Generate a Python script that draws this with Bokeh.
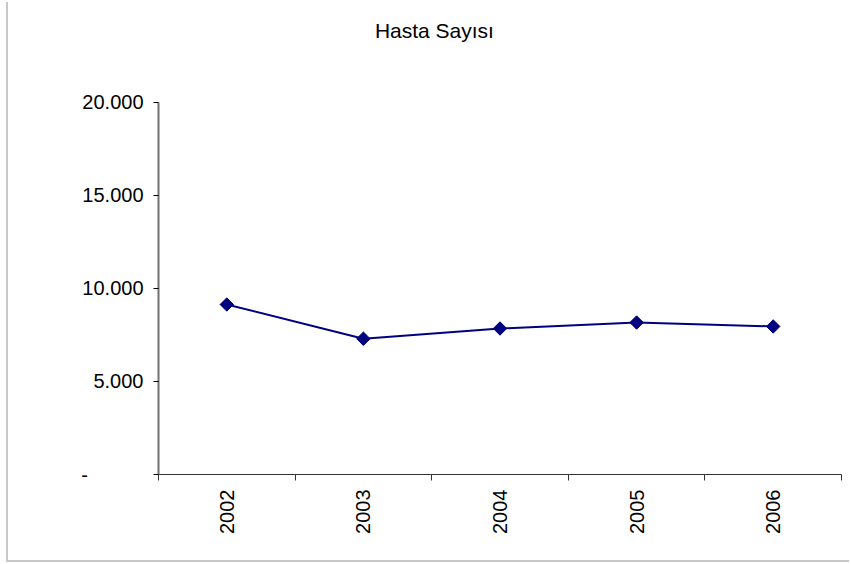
from math import pi
from bokeh.plotting import figure
from bokeh.layouts import column
from bokeh.models import (FactorRange, Range1d, LinearAxis, CategoricalAxis,
                          FixedTicker, ColumnDataSource, Label)
from bokeh.embed import file_html
from bokeh.resources import INLINE

# ---- data ----
title_text = "Hasta Sayısı"
years = ["2002", "2003", "2004", "2005", "2006"]
patients = [9140, 7300, 7850, 8170, 7960]
y_tick_values = [0, 5000, 10000, 15000, 20000]
y_tick_labels = ["-\u00a0\u00a0\u00a0\u00a0\u00a0\u00a0\u00a0\u00a0\u00a0\u00a0",
                 "5.000", "10.000", "15.000", "20.000"]

FONT = "Liberation Sans"
FS = "20px"

source = ColumnDataSource(data=dict(year=years, n=patients))

# the frame extends above the axis top so that the chart title can sit inside it
p = figure(width=843, height=560,
           x_range=FactorRange(*years, range_padding=0),
           y_range=Range1d(0, 24946),
           x_axis_location=None, y_axis_location=None,
           output_backend="svg", toolbar_location=None,
           min_border_left=150, min_border_right=10,
           min_border_top=10, min_border_bottom=86)

p.title.visible = False
p.grid.visible = False
p.outline_line_color = None
p.background_fill_color = "white"
p.border_fill_color = "white"

title = Label(text=title_text, x=2.02, y=23870,
              text_align="center", text_baseline="middle",
              text_font=FONT, text_font_size="21px", text_color="black")
p.add_layout(title)

# y axis
yaxis = LinearAxis(ticker=FixedTicker(ticks=y_tick_values), bounds=(0, 20000),
                   major_label_overrides={v: l for v, l in zip(y_tick_values, y_tick_labels)})
yaxis.axis_line_color = "#707070"
yaxis.axis_line_width = 2
yaxis.major_tick_line_color = "black"
yaxis.major_tick_in = 0
yaxis.major_tick_out = 5
yaxis.minor_tick_line_color = None
yaxis.major_label_standoff = 10
yaxis.major_label_text_font = FONT
yaxis.major_label_text_font_size = FS
yaxis.major_label_text_color = "black"
p.add_layout(yaxis, "left")

# x axis: tick marks at category boundaries (synthetic coordinates 0..N)
edge_axis = LinearAxis(ticker=FixedTicker(ticks=list(range(len(years) + 1))))
edge_axis.axis_line_color = "#333333"
edge_axis.axis_line_width = 1
edge_axis.major_tick_line_color = "#333333"
edge_axis.major_tick_in = 0
edge_axis.major_tick_out = 6
edge_axis.minor_tick_line_color = None
edge_axis.major_label_text_font_size = "0px"
edge_axis.major_label_standoff = 0
p.add_layout(edge_axis, "below")

# x axis: category labels
xaxis = CategoricalAxis()
xaxis.axis_line_color = None
xaxis.major_tick_line_color = None
xaxis.minor_tick_line_color = None
xaxis.major_label_orientation = pi / 2
xaxis.major_label_standoff = 3
xaxis.major_label_text_font = FONT
xaxis.major_label_text_font_size = FS
xaxis.major_label_text_color = "black"
p.add_layout(xaxis, "below")

p.line(x="year", y="n", source=source, line_color="#000080", line_width=2)
p.scatter(x="year", y="n", source=source, marker="square", angle=pi / 4,
          size=9.5, fill_color="#000080", line_color="#000080")

root = column(p, width=843, height=560, sizing_mode="fixed",
              styles={"margin-left": "8px", "overflow": "hidden",
                      "box-shadow": "-2px 2px 0 0 #c8c8c8"})

open("out.html", "w").write(file_html(root, INLINE))
